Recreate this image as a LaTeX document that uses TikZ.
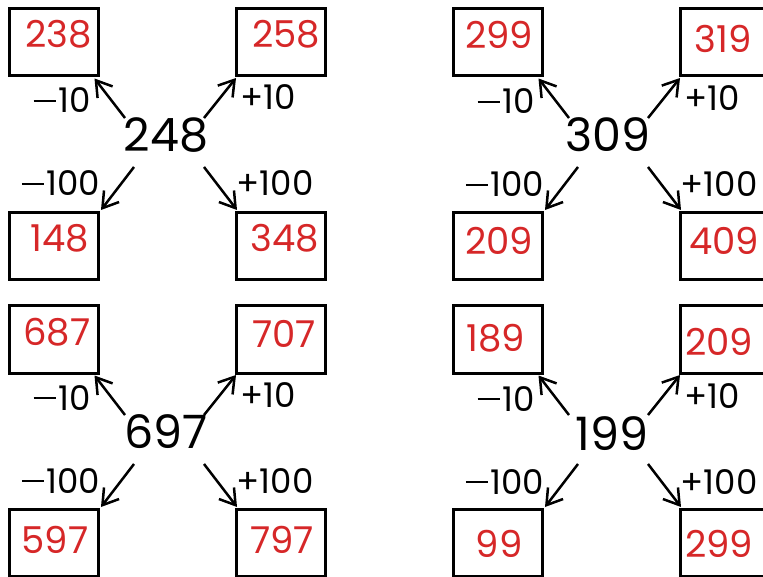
\documentclass[tikz,border=0pt]{standalone}
\usepackage{fontspec}
\setmainfont{Poppins}
\usetikzlibrary{arrows.meta,calc}
\definecolor{ansred}{RGB}{214,39,40}
\newcommand\mns{\rule[0.31em]{0.66em}{0.075em}\hspace{0.06em}}
\tikzset{
  ansbox/.style={draw, line width=3pt, minimum width=89pt, minimum height=67pt, inner sep=0pt},
  anstext/.style={text=ansred, font=\fontsize{37}{37}\selectfont, anchor=base, inner sep=0pt},
  centertext/.style={font=\fontsize{46}{46}\selectfont, anchor=base, inner sep=0pt},
  optext/.style={font=\fontsize{34}{34}\selectfont, anchor=base, inner sep=0pt},
  arr/.style={-{Straight Barb[length=15pt,width=19pt,line width=2.5pt]}, line width=2.5pt},
}
\begin{document}
\begin{tikzpicture}[x=1pt,y=-1pt]
\useasboundingbox (0,0) rectangle (763,577);
\clip (0,0) rectangle (763,577);
% boxes and arrows for each group
\foreach \ox/\oy/\g in {0/0/a,444/0/b,0/297/c,444/297/d}{
  \node[ansbox] (\g tl) at (\ox+53.5,\oy+42.5) {};
  \node[ansbox] (\g tr) at (\ox+280.5,\oy+42.5) {};
  \node[ansbox] (\g bl) at (\ox+53.5,\oy+246) {};
  \node[ansbox] (\g br) at (\ox+280.5,\oy+246) {};
  \coordinate (\g s1) at (\ox+125,\oy+118);
  \coordinate (\g s2) at (\ox+204,\oy+118);
  \coordinate (\g s3) at (\ox+134,\oy+167);
  \coordinate (\g s4) at (\ox+204,\oy+167);
  \draw[arr] (\g s1) -- ($(\g tl.south east)+(-5,1)$);
  \draw[arr] (\g s2) -- ($(\g tr.south west)+(1.5,0.5)$);
  \draw[arr] (\g s3) -- ($(\g bl.north east)+(1.5,-1)$);
  \draw[arr] (\g s4) -- ($(\g br.north west)+(2.5,-1)$);
}
% centre numbers
\node[centertext] (ca) at (166,152) {248};
\node[centertext] (cb) at (608,152) {309};
\node[centertext] (cc) at (166,448) {697};
\node[centertext] (cd) at (612,450) {199};
% answers
\node[anstext] (ta1) at (58.5,48) {238};
\node[anstext] (ta2) at (286,48) {258};
\node[anstext] (ta3) at (60,252) {148};
\node[anstext] (ta4) at (284.5,252) {348};
\node[anstext] (tb1) at (499,49) {299};
\node[anstext] (tb2) at (723,53) {319};
\node[anstext] (tb3) at (499,255) {209};
\node[anstext] (tb4) at (724,255) {409};
\node[anstext] (tc1) at (57,345) {687};
\node[anstext] (tc2) at (284,348) {707};
\node[anstext] (tc3) at (55,553) {597};
\node[anstext] (tc4) at (282,553) {797};
\node[anstext] (td1) at (496,352) {189};
\node[anstext] (td2) at (719,355) {209};
\node[anstext] (td3) at (499,557) {99};
\node[anstext] (td4) at (719,557) {299};
% operation labels
\foreach \ox/\oy/\g/\dy in {0/0/a/0,444/0/b/1,0/297/c/0,444/297/d/1}{
  \node[optext] (\g o1) at (\ox+62,\oy+113+\dy) {\mns10};
  \node[optext] (\g o2) at (\ox+268,\oy+110+\dy) {+10};
  \node[optext] (\g o3) at (\ox+61,\oy+196+\dy) {\mns100};
  \node[optext] (\g o4) at (\ox+275,\oy+196+\dy) {+100};
}
\end{tikzpicture}
\end{document}
